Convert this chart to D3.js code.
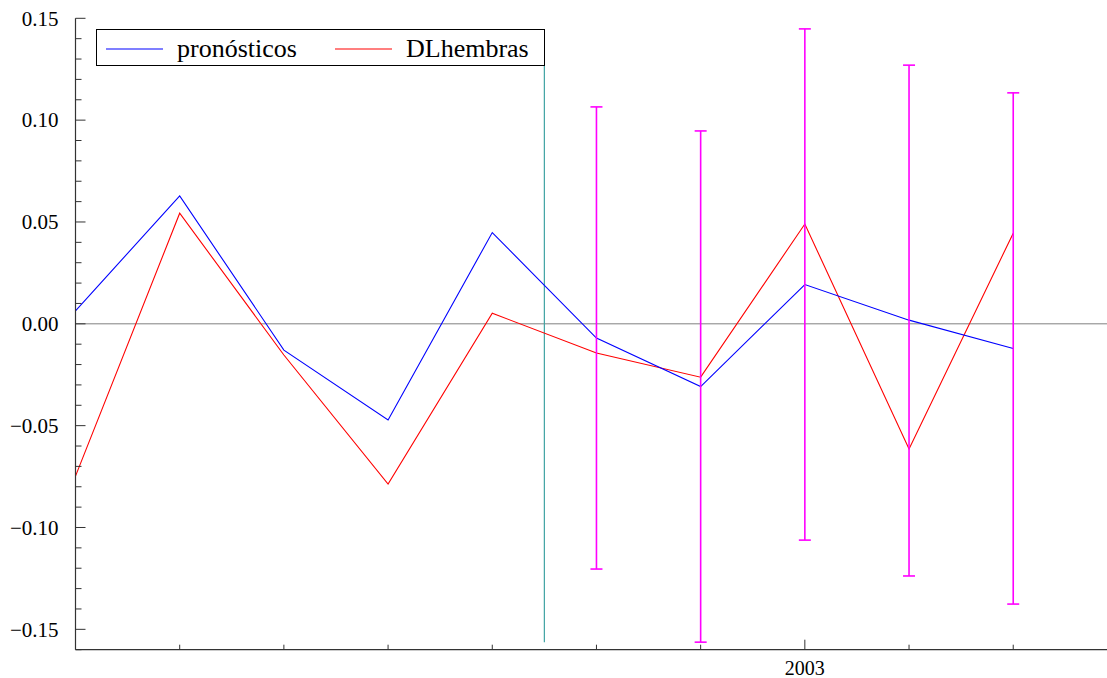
<!DOCTYPE html>
<html>
<head>
<meta charset="utf-8">
<script src="https://cdn.jsdelivr.net/npm/d3@7/dist/d3.min.js"></script>
</head>
<body style="margin:0">
<svg id="chart" width="1107" height="678" style="font-family: 'Liberation Serif', serif"></svg>
<script>
// Period index along the x axis and the one labelled tick
const periods = [0, 1, 2, 3, 4, 5, 6, 7, 8, 9];
const tickLabels = ["", "", "", "", "", "", "", "2003", "", ""];

// Forecast series (blue) and observed series DLhembras (red)
const pronosticos = [0.0064, 0.0628, -0.0129, -0.0472, 0.0448, -0.0070, -0.0308, 0.0193, 0.0018, -0.0121];
const dlhembras   = [-0.0748, 0.0543, -0.0153, -0.0787, 0.0052, -0.0143, -0.0262, 0.0490, -0.0615, 0.0445];

// Forecast interval bounds for the out-of-sample periods
const bandIndex = [5, 6, 7, 8, 9];
const bandUpper = [0.1065, 0.0947, 0.1448, 0.1270, 0.1134];
const bandLower = [-0.1204, -0.1563, -0.1062, -0.1238, -0.1376];

// Forecast start marker (between periods 4 and 5)
const forecastStart = 4.5;
const markerRange = [0.127, -0.1563];

const yTicks = [0.15, 0.10, 0.05, 0.00, -0.05, -0.10, -0.15];

const svg = d3.select("#chart");
const x = d3.scaleLinear().domain([0, 9.9]).range([75.5, 1107]);
const y = d3.scaleLinear().domain([-0.16, 0.15]).range([649.7, 18.3]);

const axisColor = "#333";

// Zero reference line
svg.append("line")
  .attr("x1", x(0)).attr("x2", x(9.9))
  .attr("y1", y(0)).attr("y2", y(0))
  .attr("stroke", "#808080").attr("stroke-width", 1);

// Forecast start marker
svg.append("line")
  .attr("x1", x(forecastStart)).attr("x2", x(forecastStart))
  .attr("y1", y(markerRange[0])).attr("y2", y(markerRange[1]))
  .attr("stroke", "#3fa3a3").attr("stroke-width", 1.2);

// Series lines
const line = d3.line().x((d, i) => x(periods[i])).y(d => y(d));
svg.append("path").datum(dlhembras).attr("d", line)
  .attr("fill", "none").attr("stroke", "#ff0000").attr("stroke-width", 1.1);
svg.append("path").datum(pronosticos).attr("d", line)
  .attr("fill", "none").attr("stroke", "#0000ff").attr("stroke-width", 1.1);

// Error bars
const bars = svg.append("g").attr("stroke", "#ff00ff").attr("stroke-width", 1.6);
bandIndex.forEach((p, i) => {
  const cx = x(p);
  bars.append("line").attr("x1", cx).attr("x2", cx)
    .attr("y1", y(bandUpper[i])).attr("y2", y(bandLower[i]));
  bars.append("line").attr("x1", cx - 6).attr("x2", cx + 6)
    .attr("y1", y(bandUpper[i])).attr("y2", y(bandUpper[i]));
  bars.append("line").attr("x1", cx - 6).attr("x2", cx + 6)
    .attr("y1", y(bandLower[i])).attr("y2", y(bandLower[i]));
});

// Y axis with minor ticks every 0.01
const yAxisG = svg.append("g").attr("transform", `translate(${x(0)},0)`);
yAxisG.append("line").attr("x1", 0).attr("x2", 0)
  .attr("y1", y(0.15)).attr("y2", y(-0.16))
  .attr("stroke", axisColor).attr("stroke-width", 1.2);
const minor = d3.range(-16, 16).map(v => v / 100);
yAxisG.selectAll("line.minor").data(minor).join("line")
  .attr("class", "minor")
  .attr("x1", 0).attr("x2", d => (Math.round(d * 100) % 5 === 0 ? 10 : 6))
  .attr("y1", d => y(d)).attr("y2", d => y(d))
  .attr("stroke", axisColor).attr("stroke-width", 1);
yAxisG.selectAll("text").data(yTicks).join("text")
  .attr("x", -17).attr("y", d => y(d))
  .attr("dy", "0.35em")
  .attr("text-anchor", "end")
  .style("font-family", "Liberation Serif")
  .style("font-size", "21px")
  .text(d => d3.format(".2f")(d));

// X axis
const xAxisG = svg.append("g");
xAxisG.append("line").attr("x1", x(0)).attr("x2", x(9.9))
  .attr("y1", y(-0.16)).attr("y2", y(-0.16))
  .attr("stroke", axisColor).attr("stroke-width", 1.2);
xAxisG.selectAll("line.tick").data(periods.slice(1)).join("line")
  .attr("class", "tick")
  .attr("x1", d => x(d)).attr("x2", d => x(d))
  .attr("y1", y(-0.16)).attr("y2", d => y(-0.16) - (tickLabels[d] ? 10 : 5))
  .attr("stroke", axisColor).attr("stroke-width", 1);
xAxisG.selectAll("text").data(periods.filter(d => tickLabels[d])).join("text")
  .attr("x", d => x(d)).attr("y", 675)
  .attr("text-anchor", "middle")
  .style("font-family", "Liberation Serif")
  .style("font-size", "20px")
  .text(d => tickLabels[d]);

// Legend
const legend = svg.append("g");
legend.append("rect").attr("x", 96.5).attr("y", 29.5).attr("width", 448).attr("height", 36)
  .attr("fill", "#fff").attr("stroke", "#000").attr("stroke-width", 1);
const legendItems = [
  { name: "pronósticos", color: "#0000ff", x0: 106 },
  { name: "DLhembras", color: "#ff0000", x0: 335 }
];
legendItems.forEach(it => {
  legend.append("line").attr("x1", it.x0).attr("x2", it.x0 + 57)
    .attr("y1", 49).attr("y2", 49)
    .attr("stroke", it.color).attr("stroke-width", 1.2);
  legend.append("text").attr("x", it.x0 + 71).attr("y", 57)
    .style("font-family", "Liberation Serif")
    .style("font-size", "26px")
    .text(it.name);
});
</script>
</body>
</html>
